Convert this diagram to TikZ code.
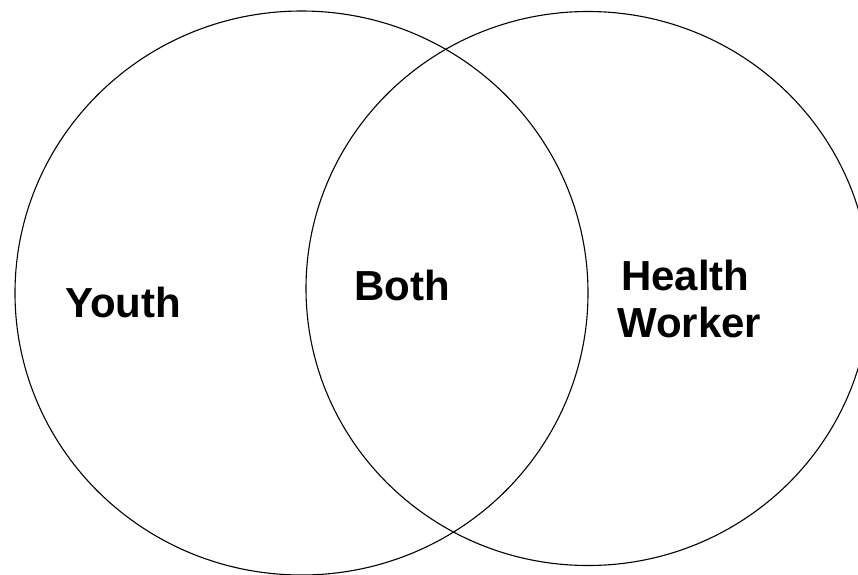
\documentclass[tikz,border=0pt]{standalone}
\usepackage{fontspec}
\setmainfont{Liberation Sans}
\begin{document}
\begin{tikzpicture}[x=1pt,y=-1pt,
  ring/.style={draw=black,line width=1.1pt},
  lbl/.style={font=\fontsize{42}{47}\selectfont\bfseries,inner sep=0pt,anchor=base west}]
\useasboundingbox (0,0) rectangle (858,574);
\clip (0,0) rectangle (858,574);
\draw[ring] (301.5,293) ellipse [x radius=286.5, y radius=282];
\draw[ring] (588,288.5) ellipse [x radius=282, y radius=277];
\node[lbl] (youth) at (65,317) {Youth};
\node[lbl] (both) at (354,300) {Both};
\node[lbl] (health) at (621,290) {Health};
\node[lbl] (worker) at (617,337) {Worker};
\end{tikzpicture}
\end{document}
